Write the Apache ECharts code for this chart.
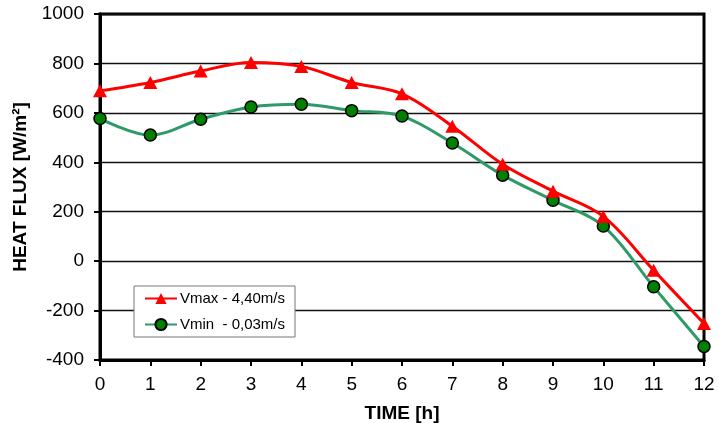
<!DOCTYPE html>
<html>
<head>
<meta charset="utf-8">
<script src="https://cdn.jsdelivr.net/npm/echarts@6/dist/echarts.min.js"></script>
<style>
html,body{margin:0;padding:0;background:#fff;}
#c{width:719px;height:423px;}
</style>
</head>
<body>
<div id="c"></div>
<script>
const hours = [0,1,2,3,4,5,6,7,8,9,10,11,12];
const vmaxValues = [689,723,769,804,788,723,677,546,392,283,181,-37,-252];
const vminValues = [577,510,574,624,635,609,587,478,348,246,142,-104,-345];
const seriesNames = ['Vmax - 4,40m/s', 'Vmin  - 0,03m/s'];
const yTicks = {min:-400, max:1000, interval:200};
const xTicks = {min:0, max:12, interval:1};

const pairs = (vals) => hours.map((h,i) => [h, vals[i]]);
const font = '"Liberation Sans", Arial, sans-serif';

const chart = echarts.init(document.getElementById('c'), null, {renderer:'canvas'});
chart.setOption({
  animation:false,
  backgroundColor:'#fff',
  grid:{left:100, right:15, top:14, bottom:63, show:true, borderColor:'#000', borderWidth:3, backgroundColor:'transparent', containLabel:false, outerBoundsMode:'none'},
  legend:{
    orient:'vertical', left:134, top:286,
    backgroundColor:'#fff',
    borderColor:'#777', borderWidth:1,
    padding:[5,10,5,10],
    itemWidth:32, itemHeight:14, itemGap:11,
    textStyle:{fontFamily:font, fontSize:15, color:'#000', padding:[0,0,0,-2]},
    data:seriesNames
  },
  xAxis:{
    type:'value', min:xTicks.min, max:xTicks.max, interval:xTicks.interval,
    name:'TIME [h]', nameLocation:'middle', nameGap:44,
    nameTextStyle:{fontFamily:font, fontSize:19, fontWeight:'bold', color:'#000'},
    axisLine:{show:true, onZero:false, lineStyle:{color:'#000', width:3}},
    axisTick:{show:true, inside:false, length:6, lineStyle:{color:'#000', width:2}},
    axisLabel:{fontFamily:font, fontSize:19, color:'#000', margin:15},
    splitLine:{show:false}
  },
  yAxis:{
    type:'value', min:yTicks.min, max:yTicks.max, interval:yTicks.interval,
    name:'HEAT FLUX [W/m²]', nameLocation:'middle', nameGap:70, nameRotate:90,
    nameTextStyle:{fontFamily:font, fontSize:19, fontWeight:'bold', color:'#000'},
    axisLine:{show:true, onZero:false, lineStyle:{color:'#000', width:3}},
    axisTick:{show:true, inside:false, length:6, lineStyle:{color:'#000', width:2}},
    axisLabel:{fontFamily:font, fontSize:19, color:'#000', margin:16, formatter:(v)=>String(v)},
    splitLine:{show:true, lineStyle:{color:'#111', width:1.3}}
  },
  series:[
    {
      name:seriesNames[0], type:'line', smooth:0.35,
      data:pairs(vmaxValues),
      symbol:'triangle', symbolSize:[14,13],
      lineStyle:{color:'#ff0000', width:3},
      itemStyle:{color:'#ff0000', borderWidth:0},
      z:3
    },
    {
      name:seriesNames[1], type:'line', smooth:0.35,
      data:pairs(vminValues),
      symbol:'circle', symbolSize:12,
      lineStyle:{color:'#2e9a68', width:3},
      itemStyle:{color:'#008000', borderColor:'#000', borderWidth:1.5},
      z:2
    }
  ]
});
</script>
</body>
</html>
